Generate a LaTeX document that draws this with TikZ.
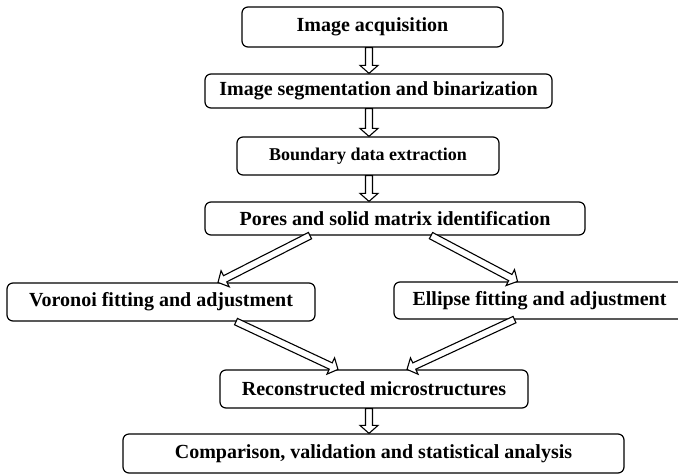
\documentclass[tikz,border=0pt]{standalone}
\usepackage{fontspec}
\setmainfont{Liberation Serif}
\usetikzlibrary{calc}
\newcommand{\fatarrow}[2]{%
  \draw[fat] let \p1=(#1), \p2=(#2),
    \n1={atan2(\y2-\y1,\x2-\x1)}, \n2={veclen(\x2-\x1,\y2-\y1)-8} in
    ($(\p1)+(\n1+90:3.5)$) -- ($(\p1)+(\n1:\n2)+(\n1+90:3.5)$)
    -- ($(\p1)+(\n1:\n2)+(\n1+90:9)$) -- (\p2)
    -- ($(\p1)+(\n1:\n2)+(\n1-90:9)$) -- ($(\p1)+(\n1:\n2)+(\n1-90:3.5)$)
    -- ($(\p1)+(\n1-90:3.5)$) -- cycle;
}
\begin{document}
\begin{tikzpicture}[x=1pt,y=1pt,
  box/.style={draw,line width=1.2pt,rounded corners=6pt,inner sep=0pt,
    font=\bfseries\fontsize{20}{22}\selectfont},
  fat/.style={draw,line width=1.1pt,fill=white,line join=miter}]
  \useasboundingbox (0,0) rectangle (678,-475);
  \node[box,minimum width=261pt,minimum height=40pt] (acq) at (372.5,-27) {Image acquisition};
  \node[box,minimum width=347pt,minimum height=34pt] (seg) at (378.5,-91) {Image segmentation and binarization};
  \node[box,minimum width=262pt,minimum height=38pt,font=\bfseries\fontsize{18}{20}\selectfont] (bnd) at (368,-156) {Boundary data extraction};
  \node[box,minimum width=380pt,minimum height=33pt] (pores) at (395,-218.5) {Pores and solid matrix identification};
  \node[box,minimum width=308pt,minimum height=38pt] (vor) at (161,-302) {Voronoi fitting and adjustment};
  \node[box,minimum width=291pt,minimum height=37pt] (ell) at (539.5,-300.5) {Ellipse fitting and adjustment};
  \node[box,minimum width=308pt,minimum height=38pt] (rec) at (374,-389) {Reconstructed microstructures};
  \node[box,minimum width=501pt,minimum height=39pt] (comp) at (373.5,-453.5) {Comparison, validation and statistical analysis};
  \coordinate (axis) at (369,0);
  \fatarrow{acq.south -| axis}{seg.north -| axis}
  \fatarrow{seg.south -| axis}{bnd.north -| axis}
  \fatarrow{bnd.south -| axis}{pores.north -| axis}
  \fatarrow{[xshift=-85pt]pores.south}{[xshift=57pt]vor.north}
  \fatarrow{[xshift=36pt]pores.south}{[xshift=-22pt]ell.north}
  \fatarrow{[xshift=75pt]vor.south}{[xshift=-36pt]rec.north}
  \fatarrow{[xshift=-25pt]ell.south}{[xshift=33pt]rec.north}
  \fatarrow{rec.south -| axis}{comp.north -| axis}
\end{tikzpicture}
\end{document}
